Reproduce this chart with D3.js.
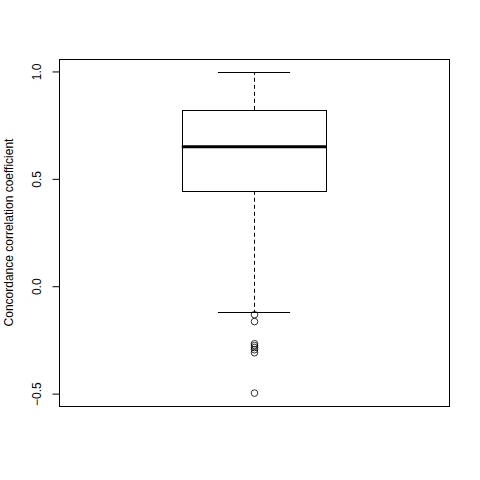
<!DOCTYPE html>
<html>
<head>
<meta charset="utf-8">
<script src="https://cdn.jsdelivr.net/npm/d3@7"></script>
<style>
  body { margin: 0; background: #fff; }
  text { font-family: "Liberation Sans", Arial, sans-serif; font-size: 12px; fill: #000; }
</style>
</head>
<body>
<svg width="480" height="480"></svg>
<script>
// box summary
var stats = [{ lowWhisker: -0.121, q1: 0.442, median: 0.647, q3: 0.819, highWhisker: 0.995 }];
var outliers = [-0.135, -0.167, -0.270, -0.279, -0.288, -0.298, -0.312, -0.500];
var yTicks = [-0.5, 0.0, 0.5, 1.0];
var yLabel = "Concordance correlation coefficient";

var width = 480;
var height = 480;
// plot region edges (window.top is reserved, so no "top" here)
var plotLeft = 59, plotRight = 449, plotTop = 59, plotBottom = 406;

var svg = d3.select("svg")
    .attr("width", width)
    .attr("height", height);

// R style: range of data extended by 4%
var yScale = d3.scaleLinear()
    .domain([-0.56, 1.0556])
    .range([plotBottom, plotTop]);

var xScale = d3.scaleLinear()
    .domain([0.46, 1.54])
    .range([plotLeft, plotRight]);

// frame
svg.append("rect")
    .attr("x", plotLeft + 0.5)
    .attr("y", plotTop + 0.5)
    .attr("width", plotRight - plotLeft)
    .attr("height", plotBottom - plotTop)
    .attr("fill", "none")
    .attr("stroke", "#000");

// y axis
var yAxis = d3.axisLeft(yScale)
    .tickValues(yTicks)
    .tickSize(7)
    .tickFormat(d3.format(".1f"));

var ax = svg.append("g")
    .attr("transform", "translate(" + (plotLeft + 0.5) + ",0.5)")
    .call(yAxis);
ax.select(".domain")
    .attr("d", "M0," + yScale(-0.5) + "V" + yScale(1.0));
ax.selectAll("text")
    .attr("x", null).attr("y", null).attr("dy", null)
    .attr("text-anchor", "middle")
    .attr("transform", "translate(-19,0) rotate(-90)")
    .style("font-size", "12px")
    .style("font-family", "'Liberation Sans', Arial, sans-serif");

svg.append("text")
    .attr("transform", "translate(13," + ((plotTop + plotBottom) / 2) + ") rotate(-90)")
    .attr("text-anchor", "middle")
    .text(yLabel);

// box
var g = svg.selectAll(".box")
    .data(stats)
    .enter()
    .append("g")
        .classed("box", true);

var cx = Math.round(xScale(1)) + 0.5;

g.append("line")
    .attr("x1", cx).attr("x2", cx)
    .attr("y1", d => yScale(d.q3)).attr("y2", d => yScale(d.highWhisker))
    .attr("stroke", "#000").attr("stroke-dasharray", "4,3");
g.append("line")
    .attr("x1", cx).attr("x2", cx)
    .attr("y1", d => yScale(d.q1)).attr("y2", d => yScale(d.lowWhisker))
    .attr("stroke", "#000").attr("stroke-dasharray", "4,3");

g.selectAll(".cap")
    .data(d => [d.lowWhisker, d.highWhisker])
    .enter()
    .append("line")
        .attr("x1", xScale(0.9)).attr("x2", xScale(1.1))
        .attr("y1", d => Math.round(yScale(d)) + 0.5)
        .attr("y2", d => Math.round(yScale(d)) + 0.5)
        .attr("stroke", "#000");

g.append("rect")
    .attr("x", Math.round(xScale(0.8)) + 0.5)
    .attr("y", d => Math.round(yScale(d.q3)) + 0.5)
    .attr("width", Math.round(xScale(1.2) - xScale(0.8)))
    .attr("height", d => Math.round(yScale(d.q1)) - Math.round(yScale(d.q3)))
    .attr("fill", "#fff")
    .attr("stroke", "#000");

g.append("line")
    .attr("x1", xScale(0.8)).attr("x2", xScale(1.2))
    .attr("y1", d => yScale(d.median)).attr("y2", d => yScale(d.median))
    .attr("stroke", "#000").attr("stroke-width", 3);

svg.selectAll(".out")
    .data(outliers)
    .enter()
    .append("circle")
        .attr("cx", cx)
        .attr("cy", d => yScale(d))
        .attr("r", 3.3)
        .attr("fill", "none")
        .attr("stroke", "#000")
        .attr("stroke-width", 0.8);
</script>
</body>
</html>
